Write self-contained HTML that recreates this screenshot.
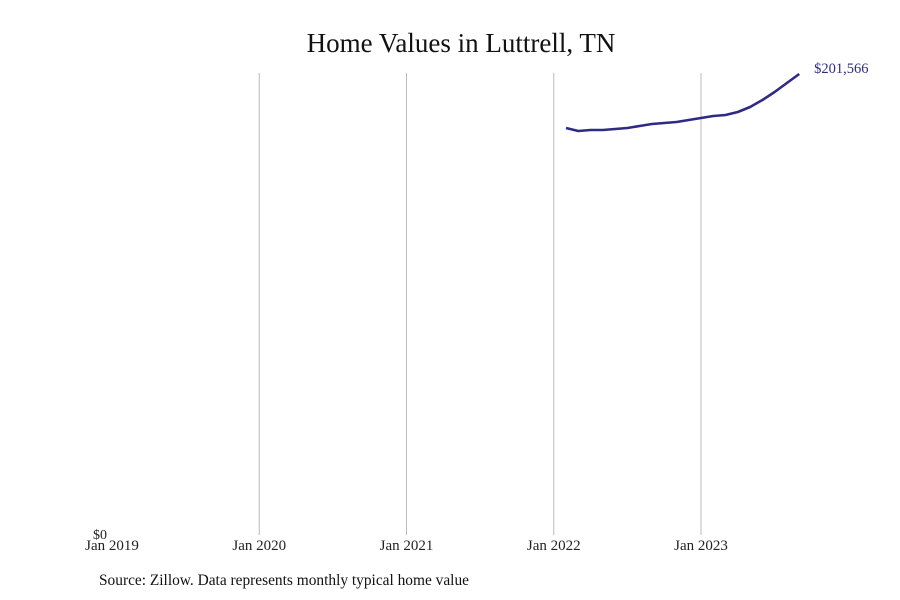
<!DOCTYPE html>
<html><head><meta charset="utf-8"><style>
body{margin:0;background:#fff;font-family:"Liberation Serif",serif;}
svg{display:block}
</style></head><body>
<svg id="chart" width="900" height="600">
<text x="461" y="52" text-anchor="middle" font-size="27" fill="#111">Home Values in Luttrell, TN</text>
<g id="grid"></g><g id="xlabels"></g>
<text x="100" y="539" text-anchor="middle" font-size="14" fill="#222">$0</text>
<path id="line" fill="none" stroke="#2e2a86" stroke-width="2.6" stroke-linejoin="round"></path>
<text id="endlabel" font-size="14.5" fill="#2e2a86"></text>
<text x="99" y="585" font-size="15.4" fill="#111">Source: Zillow. Data represents monthly typical home value</text>
</svg>
<script>
const tickLabels=["Jan 2019","Jan 2020","Jan 2021","Jan 2022","Jan 2023"];
const startMonthIndex=37; // months since Jan 2019 (Feb 2022)
const values=[177940,176630,177070,177070,177510,177940,178820,179690,180130,180570,181440,182310,183190,183630,184940,187120,190180,193680,197610,201566];
const yMax=201566;
const x=m=>112+m*(147.25/12);
const y=v=>535-v/yMax*461;
const ns="http://www.w3.org/2000/svg";
const grid=document.getElementById('grid'),xl=document.getElementById('xlabels');
tickLabels.forEach((t,i)=>{
  const xx=x(i*12);
  if(i>0){const l=document.createElementNS(ns,'line');
  l.setAttribute('x1',xx);l.setAttribute('x2',xx);l.setAttribute('y1',73);l.setAttribute('y2',535);
  l.setAttribute('stroke','#bbb');l.setAttribute('stroke-width','1');
  
  
  grid.appendChild(l);}
  const tx=document.createElementNS(ns,'text');
  tx.setAttribute('x',xx);tx.setAttribute('y',550);tx.setAttribute('text-anchor','middle');
  tx.setAttribute('font-size','15');tx.setAttribute('fill','#222');tx.textContent=t;
  
  
  xl.appendChild(tx);
});
let d='';values.forEach((v,i)=>{d+=(i?'L':'M')+x(startMonthIndex+i).toFixed(1)+','+y(v).toFixed(1);});
document.getElementById('line').setAttribute('d',d);
const last=values.length-1,el=document.getElementById('endlabel');
el.setAttribute('x',x(startMonthIndex+last)+15);el.setAttribute('y',y(values[last])-1);
el.textContent='$'+values[last].toLocaleString('en-US');
</script>
</body></html>
